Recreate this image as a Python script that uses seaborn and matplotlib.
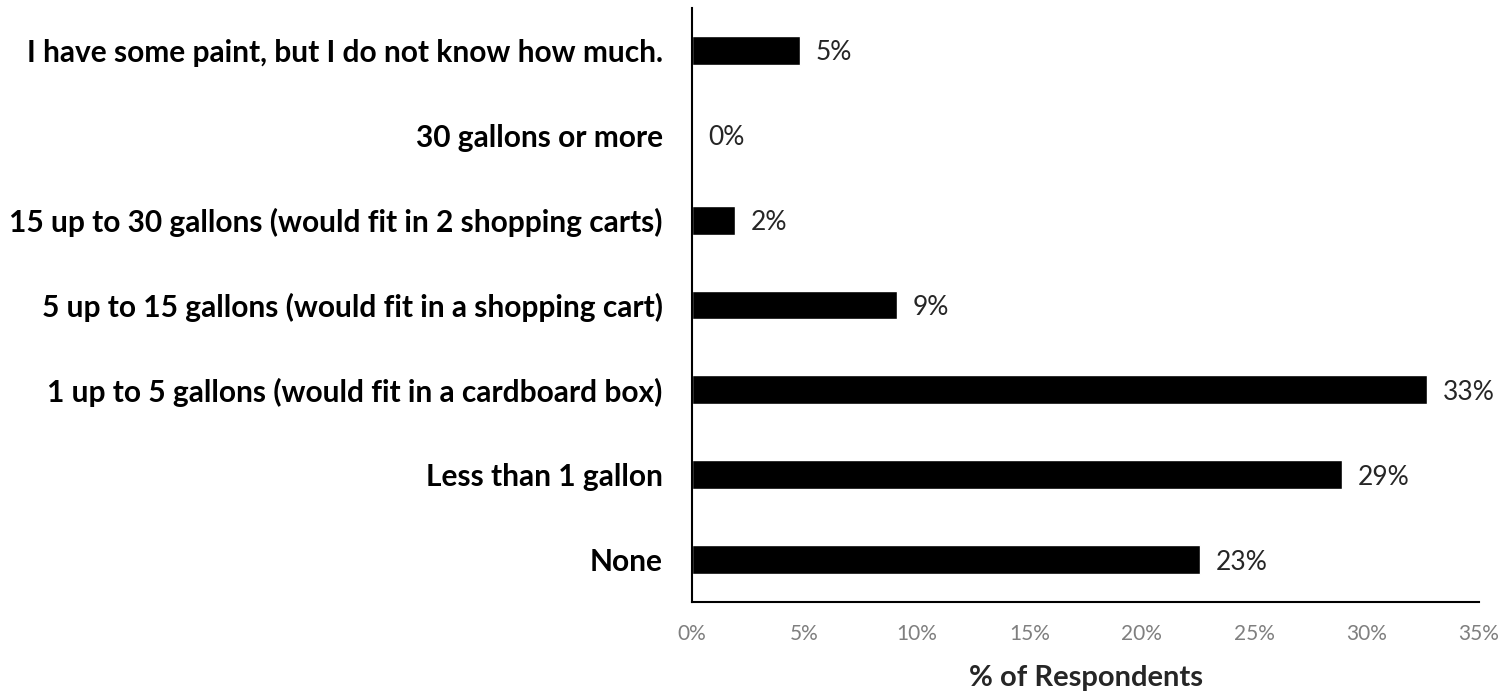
import pandas as pd
import numpy as np
import matplotlib.pyplot as plt
import seaborn as sns
from matplotlib.ticker import PercentFormatter

sns.set_theme(style='white')
plt.rcParams['font.family'] = ['Lato', 'DejaVu Sans']

# 数据
categories = [
    'I have some paint, but I do not know how much.',
    '30 gallons or more',
    '15 up to 30 gallons (would fit in 2 shopping carts)',
    '5 up to 15 gallons (would fit in a shopping cart)',
    '1 up to 5 gallons (would fit in a cardboard box)',
    'Less than 1 gallon',
    'None',
]
values = [4.8, 0.0, 1.9, 9.1, 32.7, 28.9, 22.6]
labels = ['5%', '0%', '2%', '9%', '33%', '29%', '23%']

df = pd.DataFrame({'category': categories, 'pct': values})

fig = plt.figure(figsize=(15.1, 6.91), dpi=100)
ax = fig.add_axes([0.4583, 0.1288, 0.5212, 0.8596])

sns.barplot(data=df, y='category', x='pct', order=categories,
            color='black', width=0.34, ax=ax, saturation=1)

for i, (v, lab) in enumerate(zip(values, labels)):
    ax.text(v + 0.7, i, lab, va='center_baseline', ha='left', fontsize=19, color='#262626')

ax.set_xlim(0, 35)
ax.set_ylim(len(categories) - 0.5, -0.5)
ax.xaxis.set_major_formatter(PercentFormatter(decimals=0))
ax.set_xticks(np.arange(0, 36, 5))
ax.tick_params(axis='x', colors='#7f7f7f', labelsize=15, length=0, pad=16)
ax.tick_params(axis='y', labelsize=21.5, length=0, pad=21, labelcolor='black')
for t in ax.get_yticklabels():
    t.set_fontweight('bold')
ax.set_ylabel('')
ax.set_xlabel('% of Respondents', fontsize=21, fontweight='bold', labelpad=15)

for s in ['top', 'right']:
    ax.spines[s].set_visible(False)
for s in ['left', 'bottom']:
    ax.spines[s].set_color('black')
    ax.spines[s].set_linewidth(1.5)

plt.savefig('out.png', dpi=100)
plt.close()
